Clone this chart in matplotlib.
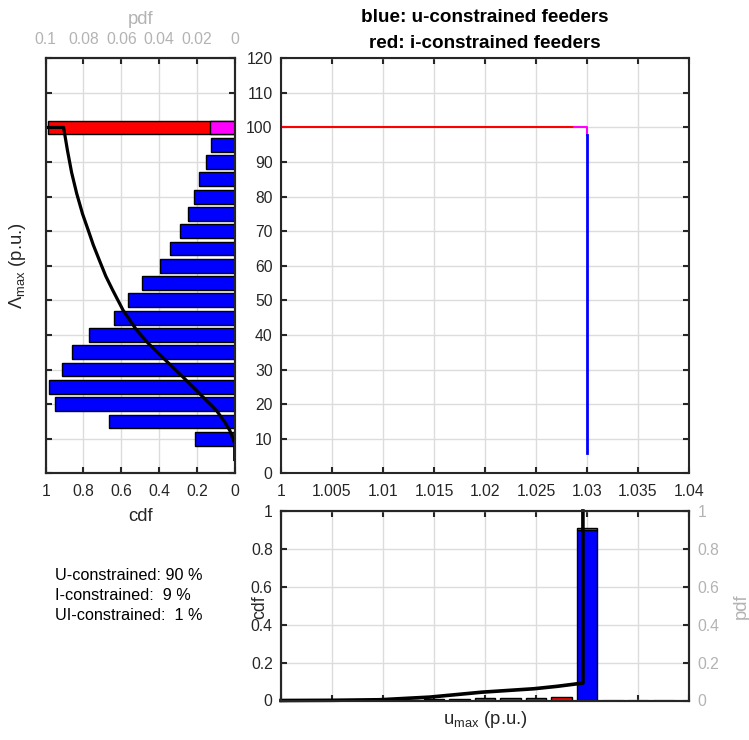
import numpy as np
import matplotlib.pyplot as plt

plt.rcParams['font.family'] = ['Liberation Sans', 'DejaVu Sans']
plt.rcParams['font.size'] = 11
plt.rcParams['mathtext.fontset'] = 'custom'
plt.rcParams['mathtext.rm'] = 'Liberation Sans'

# --- data ---
# Lambda_max histogram (pdf), bins of 5 p.u.
lam_centers = [10, 15, 20, 25, 30, 35, 40, 45, 50, 55, 60, 65, 70, 75, 80, 85, 90, 95]
lam_pdf_u = [0.0210, 0.0667, 0.0949, 0.0981, 0.0916, 0.0863, 0.0770, 0.0639, 0.0562,
             0.0493, 0.0393, 0.0343, 0.0291, 0.0245, 0.0213, 0.0189, 0.0150, 0.0128]
lam_i_center = 100
lam_pdf_i = 0.099
lam_pdf_ui = 0.013

# Lambda_max cdf
lam_cdf_x = [4, 8.6, 12.4, 15.0, 18.2, 23.0, 27.8, 32.7, 37.5, 41.4, 47.1, 52.9, 57.0,
             61.6, 66.0, 70.3, 75.0, 80.9, 87.0, 93.4, 99.9, 100, 100]
lam_cdf_y = [0.0, 0.0, 0.026, 0.055, 0.097, 0.185, 0.273, 0.366, 0.456, 0.519, 0.590,
             0.645, 0.682, 0.716, 0.748, 0.775, 0.805, 0.836, 0.863, 0.885, 0.905, 0.905, 1.0]

# scatter traces (u_max vs Lambda_max)
u_line_x = [1.03, 1.03]
u_line_y = [6, 97.7]
i_line_x = [1.0, 1.0287]
i_line_y = [100, 100]
ui_line_x = [1.0287, 1.03, 1.03]
ui_line_y = [100, 100, 97.7]

# u_max histogram (pdf), bins of 0.0025 p.u.
umax_i_centers = [1.0125, 1.015, 1.0175, 1.02, 1.0225, 1.025, 1.0275]
umax_i_pdf = [0.003, 0.007, 0.010, 0.013, 0.012, 0.015, 0.016]
umax_u_center = 1.03
umax_u_pdf = 0.90
umax_ui_pdf = 0.012
umax_zero_centers = [1.0325, 1.035, 1.0375]

# u_max cdf
umax_cdf_x = [1.0, 1.005, 1.0097, 1.0146, 1.0197, 1.0248, 1.0271, 1.0296, 1.0296]
umax_cdf_y = [0.0, 0.001, 0.004, 0.018, 0.044, 0.062, 0.075, 0.092, 1.0]

x_ticks = [1.0, 1.005, 1.01, 1.015, 1.02, 1.025, 1.03, 1.035, 1.04]
x_tick_labels = ['1', '1.005', '1.01', '1.015', '1.02', '1.025', '1.03', '1.035', '1.04']
frac_ticks = [0, 0.2, 0.4, 0.6, 0.8, 1]
frac_labels = ['0', '0.2', '0.4', '0.6', '0.8', '1']
pdf_ticks = [0, 0.02, 0.04, 0.06, 0.08, 0.1]
pdf_labels = ['0', '0.02', '0.04', '0.06', '0.08', '0.1']

# --- styling ---
axc = '#262626'
grey = '#b3b3b3'
gridc = '#dcdcdc'
tick_fs = 11.3
label_fs = 13.3


def style(ax):
    for s in ax.spines.values():
        s.set_color(axc)
        s.set_linewidth(1.5)
    ax.tick_params(direction='in', length=4, width=1.5, color=axc, labelcolor=axc,
                   labelsize=tick_fs)
    ax.set_axisbelow(True)


fig = plt.figure(figsize=(7.49, 7.40), dpi=100)
W, H = 749, 740


def rect(x0, y0, x1, y1):
    return [x0 / W, 1 - y1 / H, (x1 - x0) / W, (y1 - y0) / H]


# main axes
ax = fig.add_axes(rect(281, 58.3, 689, 473.3))
style(ax)
ax.plot(i_line_x, i_line_y, color='red', lw=1.5)
ax.plot(ui_line_x, ui_line_y, color='magenta', lw=1.5)
ax.plot(u_line_x, u_line_y, color='blue', lw=2)
ax.set_xlim(1.0, 1.04)
ax.set_ylim(0, 120)
ax.set_xticks(x_ticks)
ax.set_xticklabels(x_tick_labels)
ax.set_yticks(np.arange(0, 121, 10))
ax.tick_params(top=True, right=True)
ax.tick_params(axis='x', pad=8)
ax.tick_params(axis='y', pad=6)
ax.grid(True, color=gridc, lw=1)
fig.text(485 / W, 1 - 18 / H, 'blue: u-constrained feeders', ha='center', va='center',
         fontsize=13.6, fontweight='bold', color='black')
fig.text(485 / W, 1 - 43 / H, 'red: i-constrained feeders', ha='center', va='center',
         fontsize=13.6, fontweight='bold', color='black')

# left axes: pdf bars (top axis) + cdf curve (bottom axis)
axl = fig.add_axes(rect(45.7, 58.3, 234.7, 473.3))
axl2 = axl.twiny()
style(axl)
style(axl2)
axl.barh(lam_centers, lam_pdf_u, height=4, color='blue', edgecolor='black', lw=1)
axl.barh([lam_i_center], [lam_pdf_i], height=4, color='red', edgecolor='black', lw=1)
axl.barh([lam_i_center], [lam_pdf_ui], height=4, color='magenta', edgecolor='black', lw=1)
axl.set_xlim(0.1, 0)
axl.set_ylim(0, 120)
axl.set_xticks(pdf_ticks)
axl.set_xticklabels(pdf_labels)
axl.set_yticks(np.arange(0, 121, 10))
axl.tick_params(axis='y', left=True, right=True, labelleft=False)
axl.grid(True, color=gridc, lw=1)
axl.set_ylabel(r'$\mathregular{\Lambda_{max}}$ (p.u.)', fontsize=label_fs, color=axc)
axl.yaxis.set_label_coords((28 - 45.7) / 189, 0.5)

axl2.plot(lam_cdf_y, lam_cdf_x, color='black', lw=2.3)
axl2.set_xlim(1, 0)
axl2.set_ylim(0, 120)
axl2.set_xticks(frac_ticks)
axl2.set_xticklabels(frac_labels)

# put pdf on top, cdf at the bottom
axl.xaxis.set_ticks_position('top')
axl.xaxis.set_label_position('top')
axl.tick_params(axis='x', labelcolor=grey, pad=8)
axl.set_xlabel('pdf', color=grey, fontsize=label_fs, labelpad=6)
axl2.xaxis.set_ticks_position('bottom')
axl2.xaxis.set_label_position('bottom')
axl2.tick_params(axis='x', pad=8)
axl2.set_xlabel('cdf', fontsize=label_fs, color=axc, labelpad=6)

# bottom axes: pdf bars (right axis) + cdf curve (left axis)
axb = fig.add_axes(rect(281, 511, 689, 700.5))
axb2 = axb.twinx()
style(axb)
style(axb2)
axb.bar(umax_i_centers, umax_i_pdf, width=0.002, color='red', edgecolor='black', lw=1)
axb.bar([umax_u_center], [umax_u_pdf], width=0.002, color='blue', edgecolor='black', lw=1)
axb.bar([umax_u_center], [umax_ui_pdf], bottom=[umax_u_pdf], width=0.002, color='magenta',
        edgecolor='black', lw=1)
axb.bar(umax_zero_centers, [0.003] * len(umax_zero_centers), width=0.002, color=grey,
        edgecolor=grey, lw=1)
axb.set_xlim(1.0, 1.04)
axb.set_ylim(0, 1)
axb.set_xticks(x_ticks)
axb.tick_params(axis='x', top=True, labelbottom=False)
axb.set_yticks(frac_ticks)
axb.set_yticklabels(frac_labels)
axb.grid(True, color=gridc, lw=1)
axb.set_xlabel(r'$\mathregular{u_{max}}$ (p.u.)', fontsize=label_fs, color=axc, labelpad=6)

axb2.plot(umax_cdf_x, umax_cdf_y, color='black', lw=2.6, clip_on=False)
axb2.set_ylim(0, 1)
axb2.set_yticks(frac_ticks)
axb2.set_yticklabels(frac_labels)

axb.yaxis.set_ticks_position('right')
axb.yaxis.set_label_position('right')
axb.tick_params(axis='y', labelcolor=grey, pad=6)
axb.set_ylabel('pdf', color=grey, fontsize=label_fs, labelpad=10)
axb2.yaxis.set_ticks_position('left')
axb2.yaxis.set_label_position('left')
axb2.tick_params(axis='y', pad=6)
axb2.set_ylabel('cdf', fontsize=12.8, color=axc)
axb2.yaxis.set_label_coords((268 - 281) / 408, (700.5 - 607) / 189.5)

# summary text
fig.text(55 / W, 1 - 575 / H, 'U-constrained: 90 %', fontsize=11.7, va='center', color='black')
fig.text(55 / W, 1 - 595 / H, 'I-constrained:  9 %', fontsize=11.7, va='center', color='black')
fig.text(55 / W, 1 - 615 / H, 'UI-constrained:  1 %', fontsize=11.7, va='center', color='black')

fig.savefig('out.png', dpi=100)
